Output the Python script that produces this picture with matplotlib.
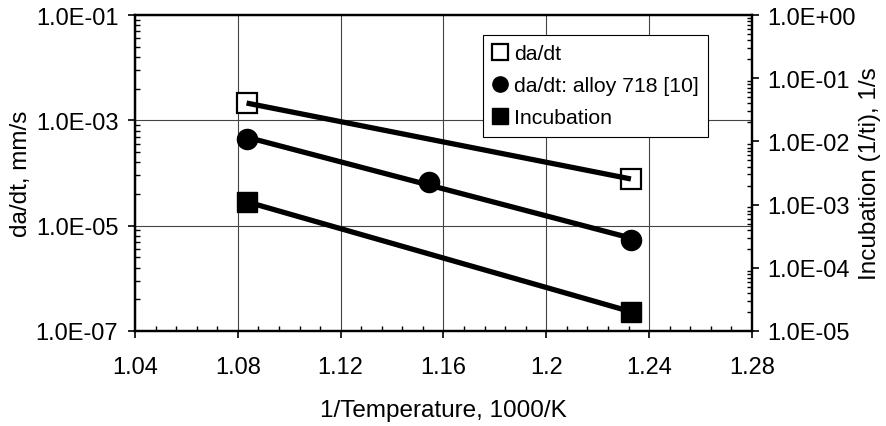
import numpy as np
import matplotlib
matplotlib.use('Agg')
import matplotlib.pyplot as plt
from matplotlib.ticker import FixedLocator, FuncFormatter, NullFormatter

plt.rcParams['font.family'] = ['Liberation Sans', 'DejaVu Sans']

# data
inv_temp_dadt = [1.0834, 1.2329]
dadt = [2.13e-3, 7.7e-5]

inv_temp_718 = [1.0834, 1.1545, 1.2329]
dadt_718 = [4.43e-4, 6.84e-5, 5.4e-6]

inv_temp_incub = [1.0834, 1.2329]
incubation = [1.11e-3, 2.02e-5]

x_ticks = [1.04, 1.08, 1.12, 1.16, 1.2, 1.24, 1.28]
x_tick_labels = ['1.04', '1.08', '1.12', '1.16', '1.2', '1.24', '1.28']
left_ticks = [1e-7, 1e-5, 1e-3, 1e-1]
right_ticks = [1e-5, 1e-4, 1e-3, 1e-2, 1e-1, 1e0]


def trend(xs, ys):
    # exponential trendline (straight in log space)
    p = np.polyfit(xs, np.log10(ys), 1)
    xx = np.array([min(xs), max(xs)])
    return xx, 10 ** np.polyval(p, xx)


def sci(v, pos):
    return f'{v:.1E}'


fig = plt.figure(figsize=(8.87, 4.27), dpi=100)
ax = fig.add_axes([0.1522, 0.2225, 0.6956, 0.74])
ax2 = ax.twinx()

fs_tick = 17
fs_label = 17.5
fs_leg = 15.3
lw_data = 3.8

# da/dt (open squares)
ax.plot(inv_temp_dadt, dadt, linestyle='none', marker='s', ms=14.5,
        mfc='white', mec='black', mew=1.6, zorder=3)
tx, ty = trend(inv_temp_dadt, dadt)
ax.plot(tx, ty, color='black', lw=lw_data, solid_capstyle='butt', zorder=4)

# alloy 718
ax.plot(inv_temp_718, dadt_718, linestyle='none', marker='o', ms=14.5,
        mfc='black', mec='black', zorder=3)
tx, ty = trend(inv_temp_718, dadt_718)
ax.plot(tx, ty, color='black', lw=lw_data, solid_capstyle='butt', zorder=4)

# incubation on the right axis
ax2.plot(inv_temp_incub, incubation, linestyle='none', marker='s', ms=14.5,
         mfc='black', mec='black', zorder=3)
tx, ty = trend(inv_temp_incub, incubation)
ax2.plot(tx, ty, color='black', lw=lw_data, solid_capstyle='butt', zorder=4)

# axes setup
ax.set_xlim(1.04, 1.28)
ax.set_yscale('log')
ax.set_ylim(1e-7, 1e-1)
ax2.set_yscale('log')
ax2.set_ylim(1e-5, 1e0)

ax.set_xticks(x_ticks)
ax.set_xticklabels(x_tick_labels)
ax.xaxis.set_minor_locator(FixedLocator(np.arange(1.04, 1.2801, 0.008)))

ax.yaxis.set_major_locator(FixedLocator(left_ticks))
ax.yaxis.set_major_formatter(FuncFormatter(sci))
left_minor = [k * k * 10.0 ** e for e in (-7, -5, -3) for k in range(2, 10)]
ax.yaxis.set_minor_locator(FixedLocator(left_minor))
ax.yaxis.set_minor_formatter(NullFormatter())

ax2.yaxis.set_major_locator(FixedLocator(right_ticks))
ax2.yaxis.set_major_formatter(FuncFormatter(sci))
right_minor = [k * 10.0 ** e for e in range(-5, 0) for k in range(2, 10)]
ax2.yaxis.set_minor_locator(FixedLocator(right_minor))
ax2.yaxis.set_minor_formatter(NullFormatter())

for a in (ax, ax2):
    a.tick_params(which='major', direction='out', length=5, width=1.2,
                  labelsize=fs_tick)
    a.tick_params(which='minor', direction='in', length=3.5, width=1.0)
    for s in a.spines.values():
        s.set_linewidth(1.6)
ax.tick_params(axis='x', which='major', pad=13)
ax.tick_params(axis='y', which='major', pad=7)
ax2.tick_params(axis='y', which='major', pad=6)

ax.grid(True, which='major', color='#444444', linewidth=0.8)
ax.set_axisbelow(True)

ax.set_xlabel('1/Temperature, 1000/K', fontsize=fs_label, labelpad=15)
ax.set_ylabel('da/dt, mm/s', fontsize=fs_label, labelpad=3)
ax2.set_ylabel('Incubation (1/ti), 1/s', fontsize=fs_label)
# the right label sits beside the tick labels, as in the original
ax2.yaxis.set_label_coords(1.174, 0.5)

# legend
h1 = plt.Line2D([], [], linestyle='none', marker='s', ms=11, mfc='white',
                mec='black', mew=1.6)
h2 = plt.Line2D([], [], linestyle='none', marker='o', ms=11, mfc='black',
                mec='black')
h3 = plt.Line2D([], [], linestyle='none', marker='s', ms=11, mfc='black',
                mec='black')
leg = ax2.legend([h1, h2, h3], ['da/dt', 'da/dt: alloy 718 [10]', 'Incubation'],
                 loc='upper left', bbox_to_anchor=(0.564, 0.937),
                 fontsize=fs_leg, frameon=True, fancybox=False, framealpha=1,
                 edgecolor='black', handlelength=0.7, handletextpad=0.3,
                 borderpad=0.45, labelspacing=0.6, borderaxespad=0)
leg.get_frame().set_linewidth(0.8)

fig.savefig('out.png', dpi=100)
